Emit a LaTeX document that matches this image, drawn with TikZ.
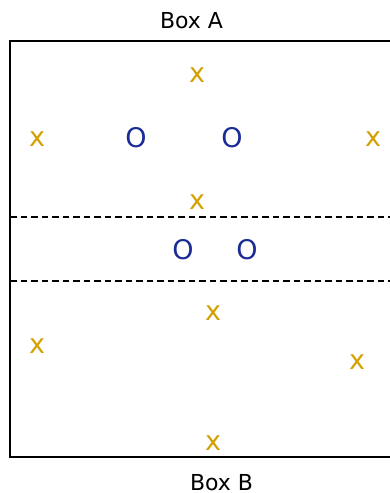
\documentclass[tikz,border=0pt]{standalone}
\usepackage{fontspec}
\setmainfont{DejaVu Sans}
\usepackage{xcolor}

\definecolor{markgold}{RGB}{212,160,0}
\definecolor{markblue}{RGB}{28,44,150}

\tikzset{
  crossmark/.style={anchor=base, inner sep=0pt, text=markgold, font=\fontsize{27}{30}\selectfont},
  ringmark/.style={anchor=base, inner sep=0pt, text=markblue, font=\fontsize{27}{30}\selectfont},
  boxlabel/.style={anchor=base, inner sep=0pt, font=\fontsize{22}{26}\selectfont}
}

\begin{document}
\begin{tikzpicture}[x=1pt, y=-1pt]
\useasboundingbox (0,0) rectangle (390,493);

% ==== Box outline (open on the right) ====
\coordinate (tr) at (390,41);
\coordinate (tl) at (10,41);
\coordinate (bl) at (10,457);
\coordinate (br) at (390,457);
\draw[line width=2.4pt] (tr) -- (tl) -- (bl) -- (br);

% Dashed separators
\coordinate (d1l) at (10,217);
\coordinate (d1r) at (390,217);
\coordinate (d2l) at (10,281);
\coordinate (d2r) at (390,281);
\draw[line width=1.6pt, dash pattern=on 6.5pt off 4pt] (d1l) -- (d1r);
\draw[line width=1.6pt, dash pattern=on 6.5pt off 4pt] (d2l) -- (d2r);

% Labels
\node[boxlabel] (boxA) at (191.5,28) {Box A};
\node[boxlabel] (boxB) at (221.5,490) {Box B};

% ==== Upper part ====
\node[crossmark] (x1) at (197,82) {x};
\node[crossmark] (x2) at (37,146) {x};
\node[ringmark] (o1) at (136,147) {O};
\node[ringmark] (o2) at (232,147) {O};
\node[crossmark] (x3) at (373,146) {x};
\node[crossmark] (x4) at (197,209) {x};

% ==== Middle band ====
\node[ringmark] (o3) at (183,259) {O};
\node[ringmark] (o4) at (247,259) {O};

% ==== Lower part ====
\node[crossmark] (x5) at (213,320) {x};
\node[crossmark] (x6) at (37,353) {x};
\node[crossmark] (x7) at (357,369) {x};
\node[crossmark] (x8) at (213,450) {x};

\end{tikzpicture}
\end{document}
